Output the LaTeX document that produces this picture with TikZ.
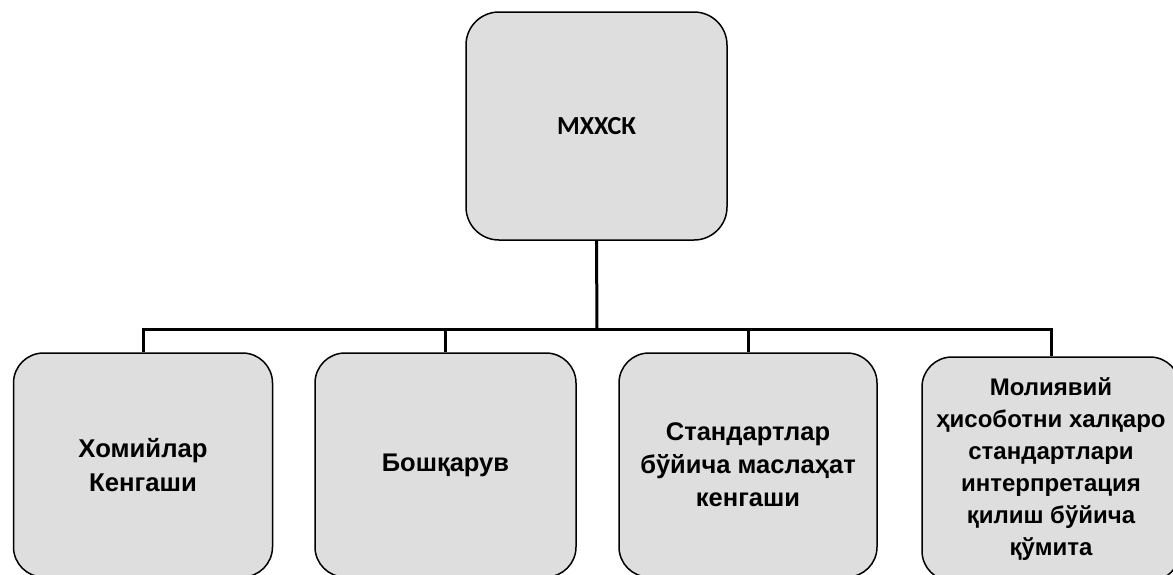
\documentclass[tikz,border=0pt]{standalone}
\usepackage{fontspec}
\setmainfont{Liberation Sans}
\newfontfamily\calibrifont{Carlito}
\definecolor{boxfill}{RGB}{222,222,222}
\tikzset{
  orgbox/.style={draw=black, line width=1.5pt, fill=boxfill, rounded corners=30pt,
    minimum width=259pt, minimum height=224pt, inner sep=0pt, align=center,
    font=\fontsize{25.5}{33}\selectfont\bfseries},
  topbox/.style={orgbox, minimum width=261pt, minimum height=228pt, rounded corners=33pt,
    font=\calibrifont\fontsize{26}{30}\selectfont\bfseries},
  conn/.style={draw=black, line width=3pt}
}
\begin{document}
\begin{tikzpicture}[x=1pt,y=-1pt]
\useasboundingbox (0,0) rectangle (1173,574);
\clip (0,0) rectangle (1173,574);
\fill[white] (0,0) rectangle (1173,574);
\node[topbox] (top) at (596.5,126) {МХХСК};
\node[orgbox, font=\fontsize{25.7}{34}\selectfont\bfseries] (b1) at (143,465) {Хомийлар\\Кенгаши};
\node[orgbox, minimum width=261pt] (b2) at (445.5,465) {Бошқарув};
\node[orgbox, minimum width=258pt] (b3) at (748,465) {Стандартлар\\бўйича маслаҳат\\кенгаши};
\node[orgbox, minimum width=258pt, font=\fontsize{24}{32}\selectfont\bfseries] (b4) at (1051,469) {Молиявий\\ҳисоботни халқаро\\стандартлари\\интерпретация\\қилиш бўйича\\қўмита};
\coordinate (j) at (597,329);
\draw[conn] (top.south) -- (j);
\draw[conn] (b1.north) -- (b1.north |- j) -- (b4.north |- j) -- (b4.north);
\draw[conn] (b2.north) -- (b2.north |- j);
\draw[conn] (b3.north) -- (b3.north |- j);
\end{tikzpicture}
\end{document}
